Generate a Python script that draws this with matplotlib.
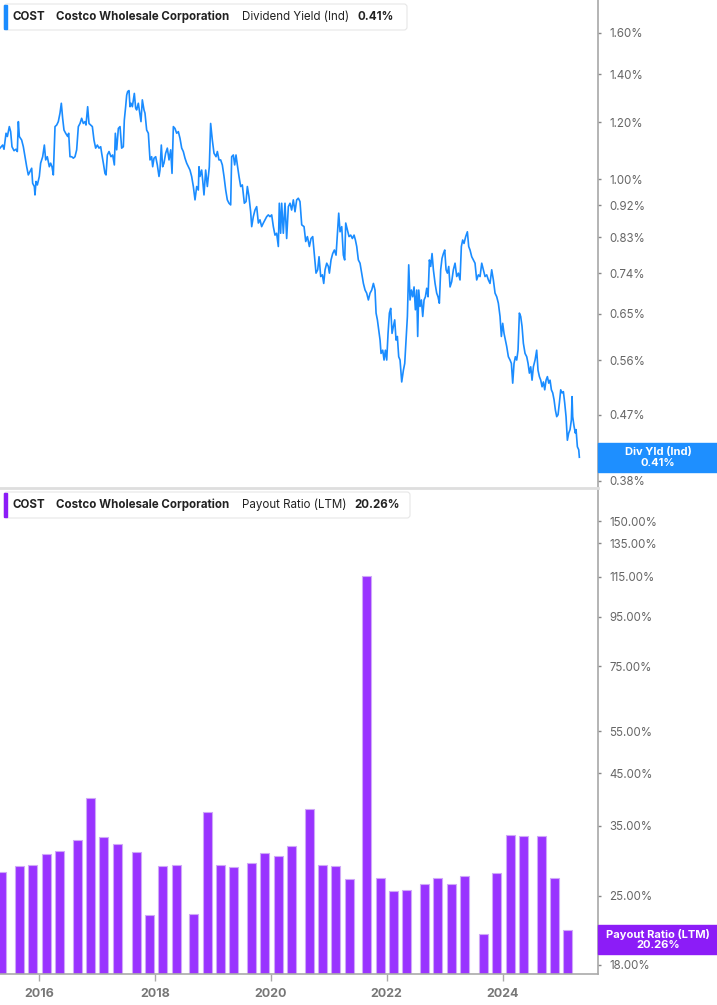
import matplotlib
matplotlib.use("Agg")
import matplotlib.pyplot as plt
import pandas as pd
from matplotlib.patches import Rectangle, FancyBboxPatch
from matplotlib.lines import Line2D
from matplotlib.ticker import NullLocator

plt.rcParams['font.family'] = ['Inter', 'DejaVu Sans']

# dividend yield (indicated), %
div_year = [
    2015.321, 2015.367, 2015.390, 2015.425, 2015.448, 2015.482, 2015.505, 2015.528, 2015.563, 2015.597,
    2015.620, 2015.638, 2015.655, 2015.695, 2015.724, 2015.753, 2015.782, 2015.810, 2015.839, 2015.868,
    2015.885, 2015.914, 2015.925, 2015.943, 2015.966, 2016.000, 2016.023, 2016.058, 2016.087, 2016.110,
    2016.138, 2016.173, 2016.196, 2016.219, 2016.242, 2016.271, 2016.300, 2016.328, 2016.357, 2016.380,
    2016.403, 2016.426, 2016.455, 2016.490, 2016.507, 2016.530, 2016.559, 2016.588, 2016.616, 2016.645,
    2016.674, 2016.703, 2016.731, 2016.760, 2016.789, 2016.806, 2016.835, 2016.858, 2016.887, 2016.916,
    2016.944, 2016.973, 2017.002, 2017.031, 2017.060, 2017.077, 2017.106, 2017.134, 2017.152, 2017.175,
    2017.204, 2017.238, 2017.267, 2017.296, 2017.313, 2017.336, 2017.365, 2017.394, 2017.422, 2017.451,
    2017.468, 2017.491, 2017.509, 2017.526, 2017.549, 2017.566, 2017.583, 2017.607, 2017.624, 2017.641,
    2017.664, 2017.681, 2017.710, 2017.739, 2017.756, 2017.779, 2017.808, 2017.825, 2017.854, 2017.883,
    2017.912, 2017.940, 2017.958, 2017.981, 2018.010, 2018.038, 2018.067, 2018.084, 2018.107, 2018.130,
    2018.153, 2018.182, 2018.211, 2018.240, 2018.269, 2018.292, 2018.315, 2018.343, 2018.372, 2018.401,
    2018.430, 2018.459, 2018.487, 2018.516, 2018.545, 2018.574, 2018.602, 2018.631, 2018.660, 2018.689,
    2018.718, 2018.746, 2018.758, 2018.775, 2018.804, 2018.821, 2018.844, 2018.873, 2018.902, 2018.936,
    2018.959, 2018.988, 2019.017, 2019.052, 2019.075, 2019.103, 2019.132, 2019.161, 2019.190, 2019.219,
    2019.247, 2019.276, 2019.305, 2019.322, 2019.351, 2019.374, 2019.397, 2019.420, 2019.449, 2019.478,
    2019.506, 2019.541, 2019.570, 2019.593, 2019.621, 2019.650, 2019.668, 2019.696, 2019.725, 2019.754,
    2019.783, 2019.811, 2019.840, 2019.869, 2019.898, 2019.927, 2019.955, 2019.984, 2020.013, 2020.042,
    2020.070, 2020.099, 2020.128, 2020.145, 2020.168, 2020.186, 2020.214, 2020.243, 2020.272, 2020.301,
    2020.330, 2020.358, 2020.387, 2020.416, 2020.445, 2020.473, 2020.502,
    2020.532, 2020.572, 2020.601, 2020.630, 2020.664, 2020.693, 2020.722, 2020.751, 2020.779,
    2020.808, 2020.831, 2020.860, 2020.889, 2020.912, 2020.935, 2020.964, 2020.992, 2021.010, 2021.038,
    2021.067, 2021.096, 2021.125, 2021.148, 2021.171, 2021.194, 2021.223, 2021.251, 2021.274, 2021.292,
    2021.321, 2021.349, 2021.378, 2021.407, 2021.436, 2021.459, 2021.482, 2021.510, 2021.539, 2021.568,
    2021.597, 2021.626, 2021.654, 2021.683, 2021.712, 2021.741, 2021.770, 2021.798, 2021.816, 2021.839,
    2021.862, 2021.885, 2021.902, 2021.931, 2021.954, 2021.977, 2022.000, 2022.023, 2022.046, 2022.069,
    2022.092, 2022.115, 2022.138, 2022.161, 2022.184, 2022.207, 2022.230, 2022.259, 2022.288, 2022.311,
    2022.334, 2022.357, 2022.380, 2022.403, 2022.426, 2022.449, 2022.472, 2022.495, 2022.518, 2022.535,
    2022.553, 2022.576, 2022.599, 2022.622, 2022.645, 2022.668, 2022.691, 2022.714, 2022.737, 2022.760,
    2022.783, 2022.806, 2022.835, 2022.863, 2022.886, 2022.909, 2022.932, 2022.955, 2022.979, 2023.002,
    2023.025, 2023.048, 2023.071, 2023.094, 2023.122, 2023.151, 2023.180, 2023.209, 2023.238, 2023.266,
    2023.289, 2023.312, 2023.335, 2023.364, 2023.393, 2023.416, 2023.439, 2023.468, 2023.497, 2023.525,
    2023.554, 2023.583, 2023.612, 2023.641, 2023.669, 2023.698, 2023.727, 2023.756, 2023.784, 2023.813,
    2023.842, 2023.871, 2023.900, 2023.928, 2023.957, 2023.980, 2024.003, 2024.026, 2024.049, 2024.072,
    2024.101, 2024.130, 2024.153, 2024.176, 2024.199, 2024.222, 2024.245, 2024.268, 2024.291, 2024.314,
    2024.337, 2024.360, 2024.389, 2024.418, 2024.441, 2024.464, 2024.487, 2024.510, 2024.533, 2024.562,
    2024.590, 2024.613, 2024.637, 2024.660, 2024.683, 2024.706, 2024.729, 2024.752, 2024.775, 2024.798,
    2024.821, 2024.844, 2024.867, 2024.890, 2024.913, 2024.936, 2024.959, 2024.982, 2025.005, 2025.028,
    2025.051, 2025.074, 2025.097, 2025.120, 2025.143, 2025.166, 2025.189, 2025.201, 2025.212, 2025.235,
    2025.258, 2025.270, 2025.293, 2025.316, 2025.327,
]
div_yield = [
    1.105, 1.116, 1.101, 1.159, 1.147, 1.184, 1.165, 1.110, 1.096, 1.101,
    1.093, 1.203, 1.147, 1.134, 1.110, 1.075, 1.041, 1.014, 1.025, 1.036,
    0.987, 0.977, 0.951, 0.993, 0.982, 1.009, 1.053, 1.075, 1.116, 1.064,
    1.075, 1.041, 1.053, 1.041, 1.014, 1.184, 1.190, 1.203, 1.236, 1.276,
    1.216, 1.171, 1.159, 1.147, 1.159, 1.075, 1.075, 1.070, 1.075, 1.099,
    1.184, 1.196, 1.216, 1.196, 1.203, 1.190, 1.262, 1.196, 1.190, 1.184,
    1.134, 1.105, 1.116, 1.105, 1.110, 1.087, 1.053, 1.019, 1.014, 1.081,
    1.093, 1.075, 1.081, 1.047, 1.159, 1.099, 1.177, 1.184, 1.105, 1.110,
    1.209, 1.262, 1.310, 1.325, 1.329, 1.262, 1.276, 1.262, 1.290, 1.317,
    1.256, 1.249, 1.276, 1.229, 1.203, 1.290, 1.249, 1.236, 1.171, 1.159,
    1.064, 1.075, 1.041, 1.070, 1.075, 1.047, 1.009, 1.030, 1.116, 1.041,
    1.053, 1.087, 1.105, 1.064, 1.099, 1.019, 1.184, 1.177, 1.159, 1.165,
    1.140, 1.105, 1.093, 1.070, 1.053, 1.041, 1.030, 1.009, 0.977, 0.936,
    0.977, 0.966, 1.041, 1.009, 1.030, 0.998, 0.951, 1.030, 0.977, 1.041,
    1.196, 1.134, 1.087, 1.075, 1.093, 1.064, 1.064, 1.047, 1.009, 0.966,
    0.936, 0.926, 0.921, 1.075, 1.081, 1.047, 1.081, 1.047, 1.009, 0.977,
    0.982, 0.926, 0.931, 0.977, 0.946, 0.901, 0.859, 0.887, 0.906, 0.916,
    0.869, 0.878, 0.859, 0.869, 0.878, 0.887, 0.892, 0.887, 0.892, 0.859,
    0.836, 0.841, 0.806, 0.926, 0.841, 0.926, 0.841, 0.926, 0.827, 0.916,
    0.926, 0.906, 0.936, 0.901, 0.936, 0.941, 0.931,
    0.864, 0.859, 0.819, 0.832, 0.806, 0.827, 0.832, 0.784, 0.740,
    0.748, 0.780, 0.732, 0.736, 0.716, 0.748, 0.764, 0.756, 0.740, 0.772,
    0.788, 0.797, 0.784, 0.841, 0.897, 0.845, 0.859, 0.784, 0.772, 0.869,
    0.850, 0.832, 0.836, 0.827, 0.836, 0.823, 0.806, 0.772, 0.764, 0.740,
    0.716, 0.701, 0.694, 0.679, 0.694, 0.701, 0.716, 0.701, 0.651, 0.637,
    0.617, 0.597, 0.572, 0.578, 0.560, 0.578, 0.560, 0.610, 0.651, 0.661,
    0.610, 0.624, 0.637, 0.597, 0.604, 0.566, 0.560, 0.522, 0.542, 0.554,
    0.597, 0.644, 0.760, 0.679, 0.701, 0.686, 0.708, 0.658, 0.701, 0.604,
    0.701, 0.665, 0.679, 0.644, 0.679, 0.686, 0.705, 0.686, 0.772, 0.756,
    0.788, 0.748, 0.716, 0.694, 0.686, 0.672, 0.748, 0.776, 0.788, 0.797,
    0.748, 0.740, 0.756, 0.708, 0.720, 0.748, 0.764, 0.732, 0.740, 0.724,
    0.806, 0.823, 0.814, 0.832, 0.845, 0.806, 0.797, 0.780, 0.772, 0.764,
    0.724, 0.736, 0.732, 0.764, 0.748, 0.732, 0.736, 0.724, 0.716, 0.748,
    0.724, 0.694, 0.686, 0.672, 0.644, 0.604, 0.630, 0.610, 0.597, 0.585,
    0.566, 0.560, 0.554, 0.520, 0.554, 0.566, 0.560, 0.578, 0.651, 0.644,
    0.624, 0.591, 0.572, 0.566, 0.554, 0.537, 0.548, 0.525, 0.548, 0.560,
    0.578, 0.542, 0.531, 0.525, 0.514, 0.522, 0.509, 0.525, 0.531, 0.520,
    0.525, 0.509, 0.504, 0.493, 0.477, 0.467, 0.470, 0.488, 0.509, 0.504,
    0.506, 0.488, 0.467, 0.433, 0.443, 0.448, 0.462, 0.498, 0.467, 0.453,
    0.443, 0.448, 0.424, 0.420, 0.410,
]

# payout ratio (LTM), % at each fiscal quarter end
quarter_end = [
    '2015-05-10', '2015-08-30',
    '2015-11-22', '2016-02-14', '2016-05-08', '2016-08-28',
    '2016-11-20', '2017-02-12', '2017-05-07', '2017-09-03',
    '2017-11-26', '2018-02-18', '2018-05-13', '2018-09-02',
    '2018-11-25', '2019-02-17', '2019-05-12', '2019-09-01',
    '2019-11-24', '2020-02-16', '2020-05-10', '2020-08-30',
    '2020-11-22', '2021-02-14', '2021-05-09', '2021-08-29',
    '2021-11-21', '2022-02-13', '2022-05-08', '2022-08-28',
    '2022-11-20', '2023-02-12', '2023-05-07', '2023-09-03',
    '2023-11-26', '2024-02-18', '2024-05-12', '2024-09-01',
    '2024-11-24', '2025-02-16',
]
payout = [
    27.0, 27.8,
    28.0, 29.6, 30.0, 31.6,
    39.0, 32.2, 31.0, 29.9,
    21.8, 27.8, 28.0, 21.9,
    36.4, 28.0, 27.7, 28.3,
    29.7, 29.3, 30.8, 36.9,
    28.0, 27.9, 26.1, 114.5,
    26.2, 24.6, 24.7, 25.5,
    26.2, 25.5, 26.5, 19.8,
    26.9, 32.4, 32.3, 32.3,
    26.2, 20.26,
]

div_ticks = [0.38, 0.47, 0.56, 0.65, 0.74, 0.83, 0.92, 1.00, 1.20, 1.40, 1.60]
pay_ticks = [18, 25, 35, 45, 55, 75, 95, 115, 135, 150]
year_ticks = [2016, 2018, 2020, 2022, 2024]

BLUE = '#1a8cff'
PURPLE = '#9933ff'
W, H = 717, 1005

fig = plt.figure(figsize=(W / 100, H / 100), dpi=100)
px = fig.dpi_scale_trans  # inches; 1 px = 0.01 in


def fx(x):
    return x / W


def fy(y):
    return 1 - y / H


ax1 = fig.add_axes([0, fy(487), fx(598), 487 / H])
ax2 = fig.add_axes([0, fy(974.3), fx(598), (974.3 - 489) / H])

q = pd.to_datetime(quarter_end)
bar_x = q.year + (q.dayofyear - 1) / 365.25

ax1.plot(div_year, div_yield, color=BLUE, lw=1.2, zorder=3)
ax2.bar(bar_x, payout, width=0.155, bottom=1, color=PURPLE,
        edgecolor='#cfa8f8', linewidth=0.8, zorder=2)

for ax, ticks, lims in [(ax1, div_ticks, (0.3727, 1.777)), (ax2, pay_ticks, (17.19, 175))]:
    ax.set_xlim(2015.321, 2025.649)
    ax.set_yscale('log')
    ax.set_ylim(*lims)
    ax.yaxis.tick_right()
    ax.set_yticks(ticks)
    ax.yaxis.set_minor_locator(NullLocator())
    ax.tick_params(axis='y', length=2, width=1, color='#888888', pad=6,
                   labelsize=8.3, labelcolor='#666666')
    for s in ['top', 'left', 'bottom']:
        ax.spines[s].set_visible(False)
    ax.spines['right'].set_color('#a0a0a0')
    ax.spines['right'].set_linewidth(1.1)
    ax.set_facecolor('none')

ax1.set_yticklabels([f'{t:.2f}%' for t in div_ticks])
ax2.set_yticklabels([f'{t:.2f}%' for t in pay_ticks])
ax1.set_xticks([])

ax2.spines['bottom'].set_visible(True)
ax2.spines['bottom'].set_color('#aaaaaa')
ax2.spines['bottom'].set_linewidth(1.2)
ax2.set_xticks(year_ticks)
ax2.set_xticklabels([str(y) for y in year_ticks])
ax2.tick_params(axis='x', length=5, width=1, color='#aaaaaa', pad=5,
                labelsize=9, labelcolor='#777777')
for lab in ax2.get_xticklabels():
    lab.set_fontweight('bold')

# separator between the panels
fig.add_artist(Line2D([0, fx(598)], [fy(488)] * 2, color='#dedede', lw=2))


def legend(y0, y1, x1, accent, parts):
    box = FancyBboxPatch((4 / 100, (H - y1) / 100), (x1 - 4) / 100, (y1 - y0) / 100,
                         boxstyle='round,pad=0,rounding_size=0.03', transform=px,
                         facecolor='white', edgecolor='#e6e6e6', lw=0.8, zorder=5)
    fig.add_artist(box)
    fig.add_artist(Rectangle((4 / 100, (H - y1 + 1) / 100), 3.3 / 100, (y1 - y0 - 2) / 100,
                             transform=px, color=accent, zorder=6))
    yc = (y0 + y1) / 2 - 0.5
    for x, s, w in parts:
        fig.text(fx(x), fy(yc), s, ha='left', va='center', fontsize=8.3,
                 fontweight=w, color='#222222', zorder=7)


legend(4, 30, 407, BLUE, [(13, 'COST', 'bold'), (56, 'Costco Wholesale Corporation', 'bold'),
                          (241.5, 'Dividend Yield (Ind)', 'normal'), (358, '0.41%', 'bold')])
legend(492, 518, 410, '#8c1cf7', [(13, 'COST', 'bold'), (56, 'Costco Wholesale Corporation', 'bold'),
                                  (241.5, 'Payout Ratio (LTM)', 'normal'), (354, '20.26%', 'bold')])


def value_box(ax, value, color, line1, line2):
    yc = ax.transData.transform((2020, value))[1]
    fig.add_artist(Rectangle((598 / 100, (yc - 14.5) / 100), 119 / 100, 29 / 100,
                             transform=px, color=color, zorder=6))
    fig.text(658 / 100, (yc + 5) / 100, line1, transform=px, ha='center', va='center',
             fontsize=8, fontweight='bold', color='white', zorder=7)
    fig.text(658 / 100, (yc - 5.5) / 100, line2, transform=px, ha='center', va='center',
             fontsize=8, fontweight='bold', color='white', zorder=7)


value_box(ax1, div_yield[-1], '#1e8fff', 'Div Yld (Ind)', f'{div_yield[-1]:.2f}%')
value_box(ax2, payout[-1], '#8c1cf7', 'Payout Ratio (LTM)', f'{payout[-1]:.2f}%')

fig.savefig('out.png', dpi=100)
